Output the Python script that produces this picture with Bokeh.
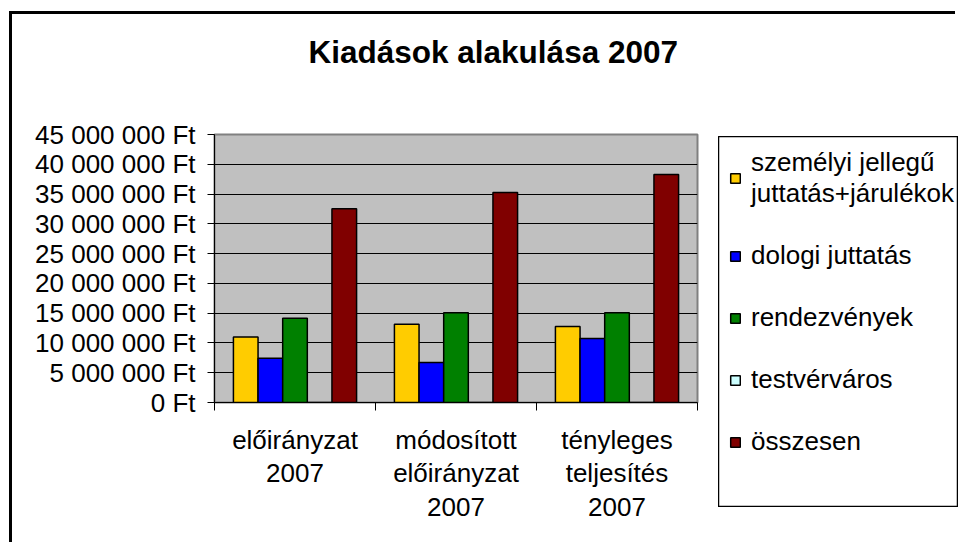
from bokeh.plotting import figure
from bokeh.models import (ColumnDataSource, Range1d, LinearAxis, FixedTicker, Legend, LegendItem, Title)
from bokeh.transform import dodge
from bokeh.embed import file_html
from bokeh.resources import INLINE

categories = ["előirányzat\n2007", "módosított\nelőirányzat\n2007", "tényleges\nteljesítés\n2007"]
series = ["személyi jellegű\njuttatás+járulékok", "dologi juttatás", "rendezvények", "testvérváros", "összesen"]
szemelyi = [11.0e6, 13.15e6, 12.75e6]
dologi = [7.45e6, 6.7e6, 10.75e6]
rendezvenyek = [14.15e6, 15.05e6, 15.05e6]
testvervaros = [0, 0, 0]
osszesen = [32.55e6, 35.25e6, 38.3e6]
y_ticks = [0, 5e6, 10e6, 15e6, 20e6, 25e6, 30e6, 35e6, 40e6, 45e6]
colors = ["#FFCC00", "#0000FF", "#008000", "#CCFFFF", "#800000"]

FONT = "Liberation Sans"
FS = "26px"

n = len(categories)
centers = [i + 0.5 for i in range(n)]
values = [szemelyi, dologi, rendezvenyek, testvervaros, osszesen]
keys = ["s0", "s1", "s2", "s3", "s4"]
data = {"pos": centers}
for k, v in zip(keys, values):
    data[k] = v
source = ColumnDataSource(data)

# ---- main chart ----
p = figure(width=946, height=531, x_range=Range1d(0, n), y_range=Range1d(0, y_ticks[-1]),
           output_backend="svg", toolbar_location=None, x_axis_location=None, y_axis_location="left",
           min_border_left=202, min_border_right=261, min_border_top=120, min_border_bottom=143)

p.background_fill_color = "#C0C0C0"
p.border_fill_color = "white"
p.outline_line_color = "#808080"
p.outline_line_width = 2
p.xgrid.visible = False
p.ygrid.ticker = FixedTicker(ticks=y_ticks)
p.ygrid.grid_line_color = "black"
p.ygrid.grid_line_width = 1

ya = p.yaxis[0]
ya.ticker = FixedTicker(ticks=y_ticks)
ya.major_label_overrides = {t: f"{int(t):,}".replace(",", " ") + " Ft" for t in y_ticks}
ya.major_label_text_font = FONT
ya.major_label_text_font_size = FS
ya.major_label_text_color = "black"
ya.major_tick_out = 7
ya.major_tick_in = 0
ya.minor_tick_line_color = None
ya.axis_line_color = "black"
ya.major_tick_line_color = "black"
ya.major_label_standoff = 12

bounds = list(range(n + 1))
tick_axis = LinearAxis(ticker=FixedTicker(ticks=bounds),
                       major_label_overrides={b: "" for b in bounds},
                       major_label_text_font_size="0px", major_tick_out=8, major_tick_in=0,
                       minor_tick_line_color=None, axis_line_color="black", major_tick_line_color="black",
                       major_label_standoff=0)
p.add_layout(tick_axis, "below")
cat_axis = LinearAxis(ticker=FixedTicker(ticks=centers),
                      major_label_overrides={c: lab for c, lab in zip(centers, categories)},
                      axis_line_color=None, major_tick_line_color=None, minor_tick_line_color=None,
                      major_label_text_font=FONT, major_label_text_font_size=FS,
                      major_label_text_line_height=1.12,
                      major_label_text_color="black", major_label_standoff=8)
p.add_layout(cat_axis, "below")

w = 0.153
for i, (k, col) in enumerate(zip(keys, colors)):
    p.vbar(x=dodge("pos", (i - 2) * w), top=k, width=w, source=source,
           fill_color=col, line_color="black", line_width=1.5)

spacer = Title(text=" ", text_font_size="1px", standoff=62)
p.add_layout(spacer, "above")

p.title.text = "Kiadások alakulása 2007"
p.title.text_font = FONT
p.title.text_font_size = "31.5px"
p.title.text_font_style = "bold"
p.title.text_color = "black"
p.title.align = "left"
p.title.offset = 94
p.title.standoff = 0

p.styles = {"margin-left": "9px", "margin-top": "11px",
            "border-left": "3px solid black", "border-top": "3px solid black"}

# ---- legend box (separate canvas laid over the chart's right side) ----
lg = figure(width=240, height=371, x_range=Range1d(100, 101), y_range=Range1d(-2, -1),
            output_backend="svg", toolbar_location=None, x_axis_location=None, y_axis_location=None,
            min_border_left=0, min_border_right=0, min_border_top=0, min_border_bottom=0)
lg.title.visible = False
lg.xgrid.visible = False
lg.ygrid.visible = False
lg.background_fill_color = "white"
lg.border_fill_color = "white"
lg.outline_line_color = "black"
lg.outline_line_width = 1.5

items = []
for i, (k, name, col) in enumerate(zip(keys, series, colors)):
    r = lg.vbar(x=dodge("pos", (i - 2) * w), top=k, width=w, source=source,
                fill_color=col, line_color="black", line_width=1.5)
    items.append(LegendItem(label=name, renderers=[r], index=0))

legend = Legend(items=items, location="top_left", orientation="vertical",
                label_text_font=FONT, label_text_font_size=FS, label_text_color="black",
                glyph_width=12, glyph_height=12, label_standoff=10, padding=12, spacing=31,
                label_height=30, border_line_color=None,
                background_fill_alpha=0, margin=11)
lg.add_layout(legend, "center")
lg.styles = {"position": "absolute", "left": "718px", "top": "136px"}

open("out.html", "w").write(file_html([p, lg], INLINE))
